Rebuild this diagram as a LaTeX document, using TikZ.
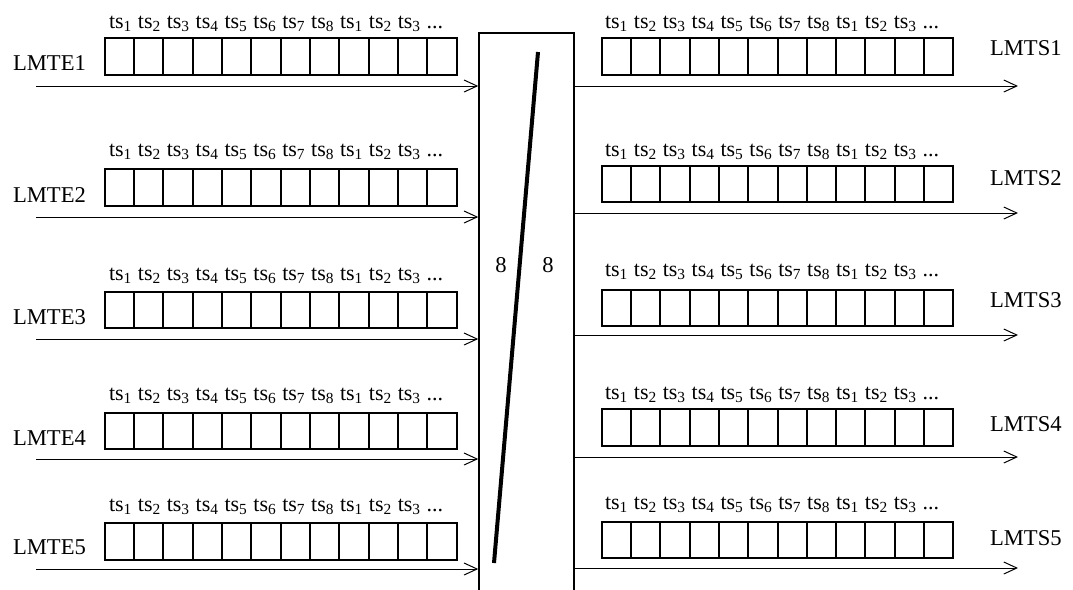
\documentclass[tikz,border=0pt]{standalone}
\usepackage{fontspec}
\setmainfont{Liberation Serif}
\usetikzlibrary{arrows.meta}
\newcommand{\slotlist}{ts\textsubscript{1} ts\textsubscript{2} ts\textsubscript{3} ts\textsubscript{4} ts\textsubscript{5} ts\textsubscript{6} ts\textsubscript{7} ts\textsubscript{8} ts\textsubscript{1} ts\textsubscript{2} ts\textsubscript{3} ...}
\begin{document}
\begin{tikzpicture}[x=0.5pt,y=-0.5pt,font=\fontsize{11.3}{13}\selectfont,
 slot/.style={draw,line width=1pt,minimum width=14.67pt,minimum height=18.3pt,inner sep=0},
 slottext/.style={anchor=west,font=\fontsize{11}{13}\selectfont},
 link/.style={line width=0.5pt,-{Straight Barb[length=6.5pt,width=6pt]}}]
\clip(0,0)rectangle(1073,590);
\node[draw,line width=0.75pt,minimum width=47.5pt,minimum height=300pt,anchor=north,inner sep=0](sw)at(526.5,32){};
\draw[line width=2pt](538,52)--(494,563);
\node(nl)at(501,265){8};\node(nr)at(548,265){8};
% inputs
\foreach \r/\ya/\yb/\yc/\yd in {1/24/56.5/63/86,2/152/187.5/195/217,3/276/310/317/339,4/396/431/438/459,5/507/541.5/547/569}{
 \node[slottext](lt\r)at(102,\ya){\slotlist};
 \foreach \k in {0,...,11}\node[slot](l\r-\k)at({119.4+29.33*\k},\yb){};
 \node(le\r)at(49.5,\yc){LMTE\r};
 \coordinate(ls\r)at(36,\yd);
 \draw[link](ls\r)--(ls\r-|sw.west);
}
% outputs
\foreach \r/\ya/\yb/\yc/\yd in {1/24/56.5/48/86,2/152/184/178/213,3/272/308/300/335,4/395/427.5/424/457,5/505/540/538/568}{
 \node[slottext](rt\r)at(598,\ya){\slotlist};
 \foreach \k in {0,...,11}\node[slot](r\r-\k)at({616.4+29.3*\k},\yb){};
 \node[anchor=west](rs\r)at(983,\yc){LMTS\r};
 \coordinate(re\r)at(1018,\yd);
 \draw[link](sw.east|-re\r)--(re\r);
}
\end{tikzpicture}
\end{document}
